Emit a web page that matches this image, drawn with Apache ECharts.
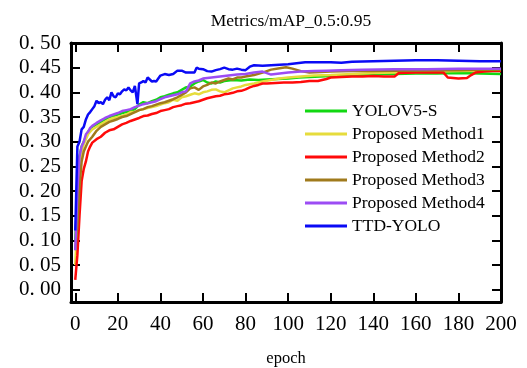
<!DOCTYPE html>
<html>
<head>
<meta charset="utf-8">
<script src="https://cdn.jsdelivr.net/npm/echarts@6/dist/echarts.min.js"></script>
<style>
  html, body { margin: 0; padding: 0; background: #fff; }
  #main { width: 527px; height: 368px; }
</style>
</head>
<body>
<div id="main"></div>
<script>
// tick labels
var xTicks = [0, 20, 40, 60, 80, 100, 120, 140, 160, 180, 200];
var yTicks = [0, 0.05, 0.1, 0.15, 0.2, 0.25, 0.3, 0.35, 0.4, 0.45, 0.5];

var seriesNames = ["YOLOV5-S", "Proposed Method1", "Proposed Method2", "Proposed Method3", "Proposed Method4", "TTD-YOLO"];

// [epoch, mAP]
var yolov5s = [[0,0.10],[1,0.19],[2,0.27],[3,0.29],[4,0.30],[5,0.31],[6,0.32],[7,0.325],[8,0.33],[10,0.335],[12,0.34],[14,0.345],[16,0.35],[18,0.352],[20,0.355],[22,0.358],[24,0.36],[26,0.362],[28,0.366],[30,0.375],[32,0.38],[34,0.378],[36,0.382],[38,0.385],[40,0.39],[42,0.392],[44,0.395],[46,0.398],[48,0.40],[50,0.405],[52,0.41],[54,0.412],[56,0.418],[58,0.422],[60,0.425],[62,0.42],[64,0.418],[66,0.422],[68,0.42],[70,0.423],[74,0.425],[78,0.424],[82,0.426],[86,0.425],[90,0.426],[95,0.427],[100,0.428],[105,0.43],[110,0.431],[115,0.432],[120,0.433],[130,0.434],[140,0.436],[150,0.437],[160,0.438],[170,0.438],[180,0.439],[190,0.438],[200,0.437]];

var method1 = [[0,0.05],[1,0.14],[2,0.24],[3,0.28],[4,0.295],[5,0.305],[6,0.315],[7,0.32],[8,0.325],[10,0.33],[12,0.335],[14,0.34],[16,0.345],[18,0.348],[20,0.35],[22,0.352],[24,0.355],[26,0.36],[28,0.36],[30,0.364],[32,0.366],[34,0.368],[36,0.37],[38,0.372],[40,0.375],[42,0.378],[44,0.38],[46,0.385],[48,0.383],[50,0.39],[52,0.392],[54,0.395],[56,0.398],[58,0.396],[60,0.40],[62,0.402],[64,0.405],[66,0.406],[68,0.402],[70,0.40],[72,0.404],[74,0.408],[76,0.41],[78,0.412],[80,0.415],[84,0.418],[88,0.422],[92,0.425],[96,0.428],[100,0.43],[106,0.432],[112,0.434],[120,0.435],[130,0.437],[140,0.439],[150,0.44],[160,0.441],[170,0.442],[180,0.443],[190,0.444],[200,0.445]];

var method2 = [[0,0.02],[1,0.07],[2,0.15],[3,0.22],[4,0.245],[5,0.26],[6,0.28],[7,0.29],[8,0.298],[10,0.305],[12,0.31],[14,0.318],[16,0.323],[18,0.325],[20,0.33],[22,0.335],[24,0.338],[26,0.342],[28,0.345],[30,0.348],[32,0.352],[34,0.353],[36,0.356],[38,0.358],[40,0.362],[42,0.364],[44,0.366],[46,0.37],[48,0.372],[50,0.374],[52,0.377],[54,0.378],[56,0.38],[58,0.382],[60,0.385],[62,0.388],[64,0.39],[66,0.392],[68,0.393],[70,0.396],[72,0.397],[74,0.399],[76,0.402],[78,0.403],[80,0.406],[82,0.41],[84,0.413],[86,0.415],[88,0.418],[90,0.418],[94,0.419],[98,0.42],[102,0.42],[106,0.421],[110,0.423],[114,0.423],[118,0.427],[120,0.43],[125,0.431],[130,0.432],[135,0.432],[140,0.433],[145,0.432],[150,0.432],[152,0.439],[160,0.44],[170,0.44],[173,0.44],[175,0.43],[180,0.428],[184,0.429],[186,0.435],[188,0.44],[192,0.442],[196,0.443],[200,0.443]];

var method3 = [[0,0.08],[1,0.13],[2,0.21],[3,0.26],[4,0.28],[5,0.29],[6,0.30],[7,0.305],[8,0.31],[10,0.322],[12,0.33],[14,0.335],[16,0.34],[18,0.343],[20,0.346],[22,0.35],[24,0.352],[26,0.356],[28,0.36],[30,0.364],[32,0.366],[34,0.37],[36,0.372],[38,0.375],[40,0.378],[42,0.38],[44,0.383],[46,0.386],[48,0.39],[50,0.395],[52,0.40],[54,0.408],[56,0.41],[58,0.405],[60,0.412],[62,0.415],[64,0.42],[66,0.418],[68,0.422],[70,0.425],[72,0.428],[74,0.426],[76,0.43],[78,0.43],[80,0.432],[84,0.435],[88,0.44],[92,0.446],[96,0.449],[99,0.451],[102,0.448],[106,0.443],[110,0.44],[115,0.441],[120,0.442],[130,0.443],[140,0.443],[150,0.444],[160,0.444],[170,0.445],[180,0.445],[190,0.446],[200,0.446]];

var method4 = [[0,0.08],[1,0.20],[2,0.27],[3,0.29],[4,0.30],[5,0.315],[6,0.32],[7,0.328],[8,0.332],[10,0.338],[12,0.343],[14,0.348],[16,0.352],[18,0.355],[20,0.358],[22,0.362],[24,0.364],[26,0.366],[28,0.37],[30,0.373],[32,0.376],[34,0.378],[36,0.38],[38,0.382],[40,0.386],[42,0.39],[44,0.392],[46,0.394],[48,0.396],[50,0.40],[52,0.402],[54,0.418],[56,0.422],[58,0.424],[60,0.428],[64,0.43],[68,0.432],[72,0.434],[76,0.436],[80,0.437],[84,0.44],[88,0.442],[92,0.436],[96,0.438],[100,0.44],[106,0.442],[112,0.443],[118,0.444],[125,0.445],[135,0.446],[150,0.447],[165,0.447],[180,0.448],[200,0.448]];

var ttdYolo = [[0,0.12],[1,0.29],[2,0.30],[3,0.325],[4,0.33],[5,0.345],[6,0.355],[7,0.36],[8,0.366],[9,0.372],[10,0.383],[11,0.378],[12,0.38],[13,0.376],[14,0.385],[15,0.39],[16,0.384],[17,0.40],[18,0.392],[19,0.39],[20,0.398],[21,0.396],[22,0.402],[23,0.406],[24,0.404],[25,0.41],[26,0.404],[27,0.40],[28,0.413],[28.8,0.41],[29.2,0.376],[30,0.418],[31,0.42],[32,0.423],[33,0.42],[34,0.43],[35,0.426],[36,0.422],[37,0.423],[38,0.422],[40,0.434],[42,0.437],[44,0.435],[46,0.437],[48,0.444],[50,0.444],[52,0.44],[54,0.44],[56,0.44],[57,0.45],[58,0.448],[60,0.447],[62,0.443],[64,0.442],[66,0.445],[68,0.447],[70,0.45],[72,0.447],[74,0.446],[76,0.448],[78,0.446],[80,0.445],[82,0.452],[84,0.455],[88,0.454],[92,0.455],[96,0.456],[100,0.457],[104,0.459],[108,0.461],[115,0.461],[120,0.461],[125,0.46],[130,0.462],[140,0.463],[150,0.464],[160,0.465],[170,0.465],[180,0.464],[190,0.463],[200,0.463]];

var seriesData = [yolov5s, method1, method2, method3, method4, ttdYolo];
var lineColors = ["#12d812", "#e6dc3c", "#ff0a0a", "#a07a1c", "#9c4cf4", "#0a0af5"];

var serif = "'Liberation Serif', 'DejaVu Serif', serif";

function ticksAxis(pos, isX, showLabels) {
  return {
    type: "value",
    position: pos,
    min: isX ? -2 : -0.025,
    max: isX ? 200 : 0.5,
    axisLine: { show: true, onZero: false, lineStyle: { color: "#000", width: 3 } },
    axisTick: {
      show: true,
      inside: true,
      length: 9,
      customValues: isX ? xTicks : yTicks,
      lineStyle: { color: "#000", width: 2 }
    },
    axisLabel: {
      show: showLabels,
      customValues: isX ? xTicks : yTicks,
      margin: isX ? 12 : 10,
      color: "#000",
      fontFamily: serif,
      fontSize: 21,
      formatter: function (v) {
        return isX ? String(v) : v.toFixed(2).replace(".", ". ");
      }
    },
    splitLine: { show: false }
  };
}

var chart = echarts.init(document.getElementById("main"));

var xBottom = ticksAxis("bottom", true, true);
xBottom.name = "epoch";
xBottom.nameLocation = "middle";
xBottom.nameGap = 48;
xBottom.nameTextStyle = { color: "#000", fontFamily: serif, fontSize: 16.5 };

var option = {
  animation: false,
  backgroundColor: "#fff",
  title: {
    text: "Metrics/mAP_0.5:0.95",
    left: 286,
    top: 7,
    textAlign: "center",
    textStyle: { color: "#000", fontFamily: serif, fontSize: 17.5, fontWeight: "normal" }
  },
  grid: {
    left: 71,
    right: 26,
    top: 43,
    bottom: 66,
    outerBoundsMode: "none",
    show: true,
    borderColor: "#000",
    borderWidth: 2
  },
  legend: {
    orient: "vertical",
    left: 305,
    top: 102,
    padding: 0,
    itemWidth: 42,
    itemHeight: 3,
    itemGap: 5,
    icon: "rect",
    data: seriesNames,
    textStyle: { color: "#000", fontFamily: serif, fontSize: 17.5 }
  },
  xAxis: [xBottom, ticksAxis("top", true, false)],
  yAxis: [ticksAxis("left", false, true), ticksAxis("right", false, false)],
  series: seriesData.map(function (d, i) {
    return {
      type: "line",
      name: seriesNames[i],
      data: d,
      symbol: "none",
      color: lineColors[i],
      lineStyle: { width: 2.5, color: lineColors[i] },
      z: 2 + i
    };
  })
};

chart.setOption(option);
</script>
</body>
</html>
